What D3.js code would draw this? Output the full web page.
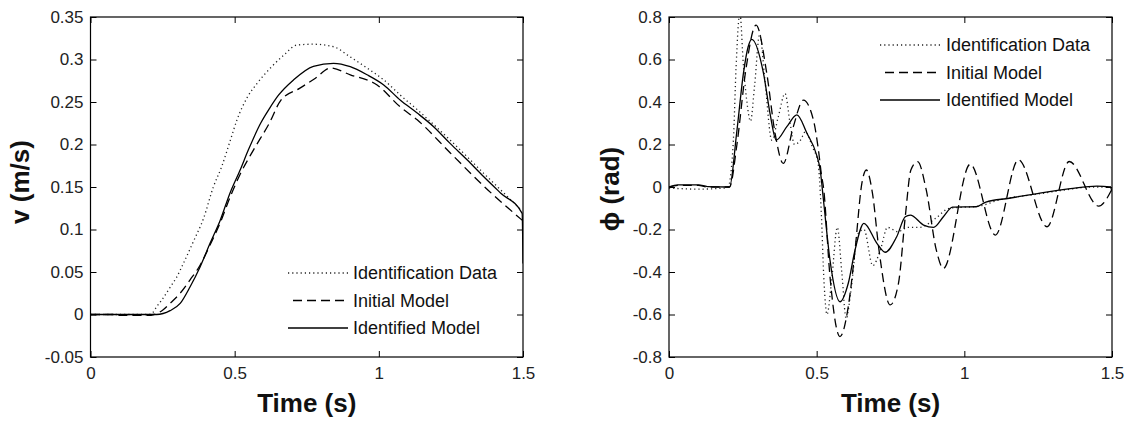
<!DOCTYPE html>
<html>
<head>
<meta charset="utf-8">
<script src="https://cdn.jsdelivr.net/npm/d3@7"></script>
<style>
  html, body { margin: 0; padding: 0; background: #fff; }
  svg { display: block; }
  text { font-family: "Liberation Sans", Arial, Helvetica, sans-serif; }
</style>
</head>
<body>
<svg id="chart" width="1129" height="422"></svg>
<script>
// ---------- shared ----------
const timeTicks = [0, 0.5, 1, 1.5];
const legendLabels = ["Identification Data", "Initial Model", "Identified Model"];

// ---------- forward velocity v (m/s) ----------
const velTicks = [-0.05, 0, 0.05, 0.1, 0.15, 0.2, 0.25, 0.3, 0.35];

const velTimeData = [0, 0.2, 0.215, 0.229, 0.247, 0.282, 0.299, 0.322, 0.357, 0.392, 0.426, 0.455, 0.485, 0.508, 0.543, 0.578, 0.624, 0.67, 0.716, 0.773, 0.843, 0.901, 0.959, 1.017, 1.075, 1.133, 1.248, 1.364, 1.497];
const velData     = [0, 0, 0.002, 0.009, 0.017, 0.035, 0.044, 0.06, 0.086, 0.113, 0.15, 0.174, 0.205, 0.229, 0.255, 0.272, 0.29, 0.305, 0.317, 0.318, 0.315, 0.303, 0.29, 0.276, 0.258, 0.241, 0.205, 0.166, 0.122];

const velTimeInit = [0, 0.08, 0.1, 0.2, 0.22, 0.25, 0.276, 0.311, 0.346, 0.38, 0.415, 0.45, 0.484, 0.519, 0.566, 0.62, 0.66, 0.725, 0.78, 0.832, 0.901, 0.994, 1.075, 1.133, 1.248, 1.364, 1.497];
const velInit     = [0, 0, -0.001, -0.001, 0, 0.005, 0.013, 0.025, 0.041, 0.058, 0.082, 0.108, 0.138, 0.165, 0.194, 0.225, 0.252, 0.266, 0.278, 0.29, 0.282, 0.27, 0.244, 0.229, 0.19, 0.151, 0.111];

const velTimeIdent = [0, 0.1, 0.2, 0.229, 0.276, 0.311, 0.346, 0.38, 0.415, 0.45, 0.484, 0.519, 0.548, 0.59, 0.62, 0.652, 0.704, 0.773, 0.843, 0.901, 0.959, 1.017, 1.075, 1.133, 1.19, 1.248, 1.306, 1.364, 1.422, 1.497, 1.5];
const velIdent     = [0, 0, 0, 0, 0.0045, 0.013, 0.033, 0.056, 0.084, 0.111, 0.143, 0.17, 0.194, 0.225, 0.242, 0.258, 0.276, 0.292, 0.2955, 0.2915, 0.282, 0.27, 0.252, 0.237, 0.221, 0.201, 0.182, 0.162, 0.143, 0.119, 0.06];

// ---------- roll angle phi (rad) ----------
const phiTicks = [-0.8, -0.6, -0.4, -0.2, 0, 0.2, 0.4, 0.6, 0.8];

const phiTimeData = [0, 0.1, 0.19, 0.2, 0.218, 0.227, 0.24, 0.252, 0.263, 0.276, 0.29, 0.307, 0.325, 0.348, 0.37, 0.393, 0.41, 0.425, 0.445, 0.462, 0.485, 0.505, 0.515, 0.525, 0.535, 0.55, 0.57, 0.585, 0.6, 0.615, 0.64, 0.66, 0.69, 0.715, 0.74, 0.775, 0.81, 0.85, 0.9, 0.95, 1.05, 1.12, 1.24, 1.35, 1.43, 1.5];
const phiData     = [-0.005, -0.01, -0.005, 0, 0.22, 0.56, 0.82, 0.57, 0.41, 0.31, 0.48, 0.72, 0.5, 0.22, 0.33, 0.44, 0.3, 0.2, 0.22, 0.26, 0.19, 0.11, -0.1, -0.45, -0.6, -0.45, -0.19, -0.4, -0.62, -0.5, -0.22, -0.2, -0.37, -0.3, -0.19, -0.21, -0.19, -0.19, -0.15, -0.1, -0.09, -0.06, -0.035, -0.012, 0, 0];

const phiTimeInit = [0, 0.03, 0.1, 0.13, 0.2, 0.205, 0.23, 0.26, 0.295, 0.331, 0.359, 0.387, 0.421, 0.455, 0.489, 0.506, 0.517, 0.523, 0.545, 0.579, 0.607, 0.63, 0.653, 0.668, 0.689, 0.711, 0.749, 0.777, 0.8, 0.819, 0.842, 0.871, 0.905, 0.929, 1.02, 1.105, 1.183, 1.28, 1.355, 1.455, 1.5];
const phiInit     = [0, 0.008, 0.008, 0, 0, 0, 0.2, 0.55, 0.762, 0.535, 0.254, 0.111, 0.284, 0.409, 0.315, 0.174, 0.05, 0, -0.42, -0.704, -0.563, -0.296, 0.017, 0.08, -0.03, -0.296, -0.555, -0.453, -0.14, 0.08, 0.119, -0.014, -0.296, -0.383, 0.107, -0.226, 0.128, -0.187, 0.12, -0.09, -0.01];

const phiTimeIdent = [0, 0.03, 0.1, 0.13, 0.2, 0.205, 0.229, 0.252, 0.268, 0.28, 0.32, 0.342, 0.363, 0.399, 0.433, 0.467, 0.5, 0.512, 0.523, 0.545, 0.579, 0.607, 0.63, 0.66, 0.704, 0.732, 0.771, 0.8, 0.817, 0.862, 0.896, 0.929, 0.96, 1.04, 1.073, 1.152, 1.242, 1.359, 1.449, 1.494, 1.5];
const phiIdent     = [0, 0.01, 0.01, 0.002, 0, 0, 0.253, 0.535, 0.66, 0.695, 0.535, 0.347, 0.221, 0.284, 0.339, 0.253, 0.15, 0.08, -0.061, -0.343, -0.54, -0.453, -0.296, -0.171, -0.265, -0.307, -0.234, -0.14, -0.132, -0.179, -0.19, -0.14, -0.095, -0.093, -0.071, -0.053, -0.032, -0.008, 0.004, 0, -0.02];

// ---------- line styles ----------
const styles = {
  data:  { stroke: "#222", width: 1.3, dash: "1.2,3" },
  init:  { stroke: "#000", width: 1.3, dash: "9,5" },
  ident: { stroke: "#000", width: 1.3, dash: null }
};

const svg = d3.select("#chart");

function drawPanel(cfg) {
  const x = d3.scaleLinear().domain([0, 1.5]).range([cfg.left, cfg.right]);
  const y = d3.scaleLinear().domain([cfg.yTicks[0], cfg.yTicks[cfg.yTicks.length - 1]]).range([cfg.bottom, cfg.top]);
  const g = svg.append("g");

  const clipId = "clip-" + cfg.id;
  svg.append("defs").append("clipPath").attr("id", clipId)
    .append("rect")
    .attr("x", cfg.left).attr("y", cfg.top)
    .attr("width", cfg.right - cfg.left).attr("height", cfg.bottom - cfg.top);

  // traces
  const line = d3.line()
    .x(d => x(d[0]))
    .y(d => y(d[1]))
    .curve(d3.curveMonotoneX);

  const traces = g.append("g").attr("clip-path", `url(#${clipId})`);
  cfg.series.forEach(s => {
    const pts = s.t.map((t, i) => [t, s.v[i]]);
    const st = styles[s.key];
    traces.append("path")
      .attr("d", line(pts))
      .attr("fill", "none")
      .attr("stroke", st.stroke)
      .attr("stroke-width", st.width)
      .attr("stroke-dasharray", st.dash)
      .attr("stroke-linejoin", "round");
  });

  // axes: ticks point inward on all four sides
  const fmt = d => String(d);
  const tickFont = g => g.selectAll("text")
    .attr("font-size", 17)
    .attr("fill", "#222")
    .attr("font-family", '"Liberation Sans", Arial, sans-serif');
  const noDomain = g => g.select(".domain").remove();

  g.append("g").attr("transform", `translate(0,${cfg.bottom})`)
    .call(d3.axisBottom(x).tickValues(timeTicks).tickFormat(fmt).tickSize(-6).tickSizeOuter(0).tickPadding(10))
    .call(noDomain).call(tickFont);
  g.append("g").attr("transform", `translate(0,${cfg.top})`)
    .call(d3.axisTop(x).tickValues(timeTicks).tickFormat("").tickSize(-6).tickSizeOuter(0))
    .call(noDomain);
  g.append("g").attr("transform", `translate(${cfg.left},0)`)
    .call(d3.axisLeft(y).tickValues(cfg.yTicks).tickFormat(fmt).tickSize(-6).tickSizeOuter(0).tickPadding(7))
    .call(noDomain).call(tickFont);
  g.append("g").attr("transform", `translate(${cfg.right},0)`)
    .call(d3.axisRight(y).tickValues(cfg.yTicks).tickFormat("").tickSize(-6).tickSizeOuter(0))
    .call(noDomain);
  g.selectAll(".tick line").attr("stroke", "#000");

  // frame
  g.append("rect")
    .attr("x", cfg.left).attr("y", cfg.top)
    .attr("width", cfg.right - cfg.left).attr("height", cfg.bottom - cfg.top)
    .attr("fill", "none").attr("stroke", "#000").attr("stroke-width", 1.2);

  // axis titles
  g.append("text")
    .attr("x", (cfg.left + cfg.right) / 2).attr("y", 412)
    .attr("text-anchor", "middle")
    .attr("font-size", 26).attr("font-weight", "bold").attr("fill", "#111")
    .text("Time (s)");
  g.append("text")
    .attr("transform", `translate(${cfg.yLabelX},${cfg.yLabelY}) rotate(-90)`)
    .attr("text-anchor", "middle")
    .attr("font-size", 26).attr("font-weight", "bold").attr("fill", "#111")
    .text(cfg.yLabel);

  // legend
  const lg = g.append("g");
  cfg.series.forEach((s, i) => {
    const st = styles[s.key];
    const yy = cfg.legend.y0 + i * cfg.legend.dy;
    lg.append("line")
      .attr("x1", cfg.legend.x1 + (s.key === "init" ? 5 : 0)).attr("x2", cfg.legend.x2)
      .attr("y1", yy).attr("y2", yy)
      .attr("stroke", st.stroke).attr("stroke-width", st.width)
      .attr("stroke-dasharray", st.dash);
    lg.append("text")
      .attr("x", cfg.legend.tx).attr("y", yy)
      .attr("dy", "0.36em")
      .attr("font-size", 18).attr("fill", "#111")
      .text(legendLabels[i]);
  });
}

drawPanel({
  id: "vel",
  left: 90.5, right: 523, top: 17, bottom: 357,
  yTicks: velTicks,
  yLabel: "v (m/s)", yLabelX: 29, yLabelY: 182,
  series: [
    { key: "data",  t: velTimeData,  v: velData },
    { key: "init",  t: velTimeInit,  v: velInit },
    { key: "ident", t: velTimeIdent, v: velIdent }
  ],
  legend: { x1: 288, x2: 348, tx: 353, y0: 273, dy: 27.5 }
});

drawPanel({
  id: "phi",
  left: 669, right: 1112, top: 17, bottom: 357,
  yTicks: phiTicks,
  yLabel: "\u03d5 (rad)", yLabelX: 619, yLabelY: 189,
  series: [
    { key: "data",  t: phiTimeData,  v: phiData },
    { key: "init",  t: phiTimeInit,  v: phiInit },
    { key: "ident", t: phiTimeIdent, v: phiIdent }
  ],
  legend: { x1: 880, x2: 940, tx: 946, y0: 45, dy: 27.5 }
});
</script>
</body>
</html>
